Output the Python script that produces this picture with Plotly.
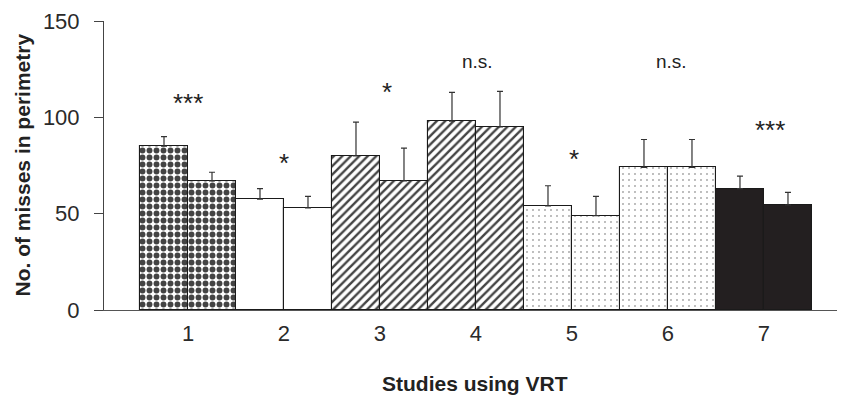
import plotly.graph_objects as go

studies = [1, 2, 3, 4, 5, 6, 7]
tick_labels = ["1", "2", "3", "4", "5", "6", "7"]
values_a = [85, 57.5, 80, 98, 54, 74, 63]
values_b = [67, 53, 67, 95, 49, 74, 54.5]
err_a = [5, 5.5, 17.5, 15, 10.5, 14.5, 6.5]
err_b = [4.5, 6, 17, 18.5, 10, 14.5, 6.5]
sig_labels = ["***", "*", "*", "n.s.", "*", "n.s.", "***"]
sig_y = [107.5, 76.5, 113, 129, 78.5, 129, 93.5]
sig_x = [1, 2, 3.07, 4.02, 5.02, 6.04, 7.06]

pat_shape = [".", "", "/", "/", ".", ".", ""]
pat_fg = ["#000000", "#ffffff", "#1a1a1a", "#1a1a1a", "#8a8a8a", "#8a8a8a", "#231f20"]
pat_size = [7, 6, 6, 6, 6, 6, 6]
pat_sol = [0.55, 0.3, 0.4, 0.4, 0.035, 0.035, 0.3]
fill = ["#ffffff", "#ffffff", "#ffffff", "#ffffff", "#ffffff", "#ffffff", "#231f20"]

fig = go.Figure()
for vals, errs in [(values_a, err_a), (values_b, err_b)]:
    fig.add_trace(go.Bar(
        x=studies, y=vals,
        marker=dict(
            color=fill,
            line=dict(color="#1a1a1a", width=1.1),
            pattern=dict(shape=pat_shape, fgcolor=pat_fg, bgcolor=fill,
                         size=pat_size, solidity=pat_sol, fillmode="overlay",
                         fgopacity=1),
        ),
        error_y=dict(type="data", array=errs, arrayminus=[0] * 7, symmetric=False,
                     color="#333333", thickness=1.2, width=3),
        showlegend=False,
    ))

for s, lab, yv in zip(sig_x, sig_labels, sig_y):
    fig.add_annotation(x=s, y=yv, text=lab, showarrow=False,
                       font=dict(family="Arial, Liberation Sans",
                                 size=26 if lab != "n.s." else 19,
                                 color="#222222"))

fig.add_annotation(xref="paper", yref="paper", x=0.5, y=0, yshift=-73,
                   xanchor="center", yanchor="middle",
                   text="<b>Studies using VRT</b>", showarrow=False,
                   font=dict(family="Arial, Liberation Sans", size=21, color="#222222"))
fig.add_annotation(xref="paper", yref="paper", x=0, xshift=-82, y=0.5, textangle=-90,
                   xanchor="center", yanchor="middle",
                   text="<b>No. of misses in perimetry</b>", showarrow=False,
                   font=dict(family="Arial, Liberation Sans", size=21, color="#222222"))

fig.update_layout(
    width=837, height=391,
    margin=dict(l=96, r=0, t=13, b=89, autoexpand=False),
    paper_bgcolor="white", plot_bgcolor="white",
    barmode="group", bargap=0, bargroupgap=0,
    font=dict(family="Arial, Liberation Sans", color="#222222"),
)
fig.update_xaxes(
    range=[0.125, 7.844], tickvals=studies, ticktext=tick_labels,
    showline=True, linecolor="#555555", linewidth=1, showgrid=False, zeroline=False,
    ticks="", ticklabelstandoff=4, automargin=False,
    tickfont=dict(size=22, color="#2a2a2a"),
)
fig.update_yaxes(
    range=[0, 150], tickvals=[0, 50, 100, 150],
    showline=True, linecolor="#444444", linewidth=1, showgrid=False, zeroline=False,
    ticks="outside", ticklen=9, tickcolor="#444444", automargin=False,
    ticklabelstandoff=10,
    tickfont=dict(size=22, color="#2a2a2a"),
)

fig.write_html("out.html")
